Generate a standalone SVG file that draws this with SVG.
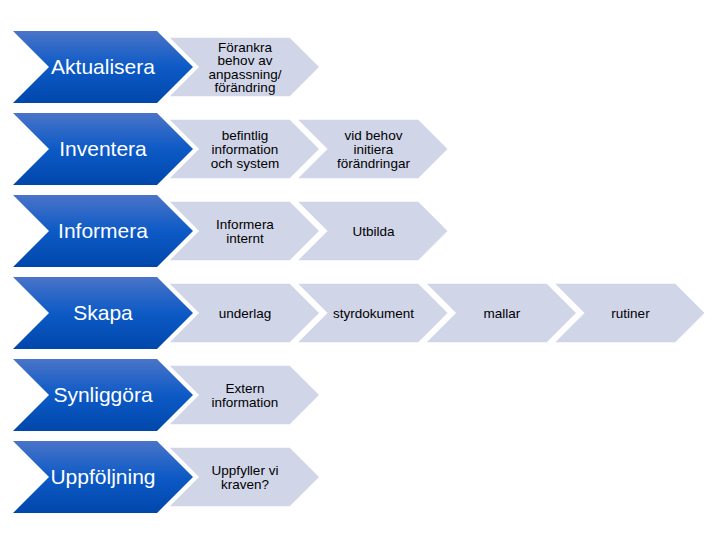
<svg xmlns="http://www.w3.org/2000/svg" width="720" height="540" viewBox="0 0 720 540">
<defs>
<linearGradient id="bg" x1="0" y1="0" x2="0" y2="1">
<stop offset="0" stop-color="#4a74c8"/>
<stop offset="0.5" stop-color="#0d5ac6"/>
<stop offset="1" stop-color="#0047ab"/>
</linearGradient>
<path id="big" d="M0,-36 H144 L180,0 L144,36 H0 L36,0 Z"/>
<path id="small" d="M0,-30 H122 L152,0 L122,30 H0 L30,0 Z"/>
</defs>
<style>
.b{fill:url(#bg);}
.s{fill:#d0d5e8;stroke:#ffffff;stroke-width:1.5;}
.bt{font-family:"Liberation Sans",Arial,sans-serif;font-size:21px;fill:#ffffff;text-anchor:middle;}
.st{font-family:"Liberation Sans",Arial,sans-serif;font-size:13.5px;fill:#000000;text-anchor:middle;}
</style>
<rect width="720" height="540" fill="#ffffff"/>
<g id="connectors"></g>
<!-- Row 1 -->
<g id="aktualisera" transform="translate(13,67)"><use href="#big" class="b"/><text class="bt" x="90" y="7">Aktualisera</text></g>
<g id="forankra" transform="translate(168,67)"><use href="#small" class="s"/><text class="st" x="77" y="-15.5">Förankra</text><text class="st" x="77" y="-2">behov av</text><text class="st" x="77" y="11.5">anpassning/</text><text class="st" x="77" y="25">förändring</text></g>
<!-- Row 2 -->
<g id="inventera" transform="translate(13,149)"><use href="#big" class="b"/><text class="bt" x="90" y="7">Inventera</text></g>
<g id="befintlig" transform="translate(168,149)"><use href="#small" class="s"/><text class="st" x="77" y="-9">befintlig</text><text class="st" x="77" y="5">information</text><text class="st" x="77" y="19">och system</text></g>
<g id="vidbehov" transform="translate(296.5,149)"><use href="#small" class="s"/><text class="st" x="77" y="-9">vid behov</text><text class="st" x="77" y="5">initiera</text><text class="st" x="77" y="19">förändringar</text></g>
<!-- Row 3 -->
<g id="informera" transform="translate(13,231)"><use href="#big" class="b"/><text class="bt" x="90" y="7">Informera</text></g>
<g id="informerainternt" transform="translate(168,231)"><use href="#small" class="s"/><text class="st" x="77" y="-2">Informera</text><text class="st" x="77" y="12">internt</text></g>
<g id="utbilda" transform="translate(296.5,231)"><use href="#small" class="s"/><text class="st" x="77" y="5">Utbilda</text></g>
<!-- Row 4 -->
<g id="skapa" transform="translate(13,313)"><use href="#big" class="b"/><text class="bt" x="90" y="7">Skapa</text></g>
<g id="underlag" transform="translate(168,313)"><use href="#small" class="s"/><text class="st" x="77" y="5">underlag</text></g>
<g id="styrdokument" transform="translate(296.5,313)"><use href="#small" class="s"/><text class="st" x="77" y="5">styrdokument</text></g>
<g id="mallar" transform="translate(425,313)"><use href="#small" class="s"/><text class="st" x="77" y="5">mallar</text></g>
<g id="rutiner" transform="translate(553.5,313)"><use href="#small" class="s"/><text class="st" x="77" y="5">rutiner</text></g>
<!-- Row 5 -->
<g id="synliggora" transform="translate(13,395)"><use href="#big" class="b"/><text class="bt" x="90" y="7">Synliggöra</text></g>
<g id="externinformation" transform="translate(168,395)"><use href="#small" class="s"/><text class="st" x="77" y="-2">Extern</text><text class="st" x="77" y="12">information</text></g>
<!-- Row 6 -->
<g id="uppfoljning" transform="translate(13,477)"><use href="#big" class="b"/><text class="bt" x="90" y="7">Uppföljning</text></g>
<g id="uppfyller" transform="translate(168,477)"><use href="#small" class="s"/><text class="st" x="77" y="-2">Uppfyller vi</text><text class="st" x="77" y="12">kraven?</text></g>
</svg>
